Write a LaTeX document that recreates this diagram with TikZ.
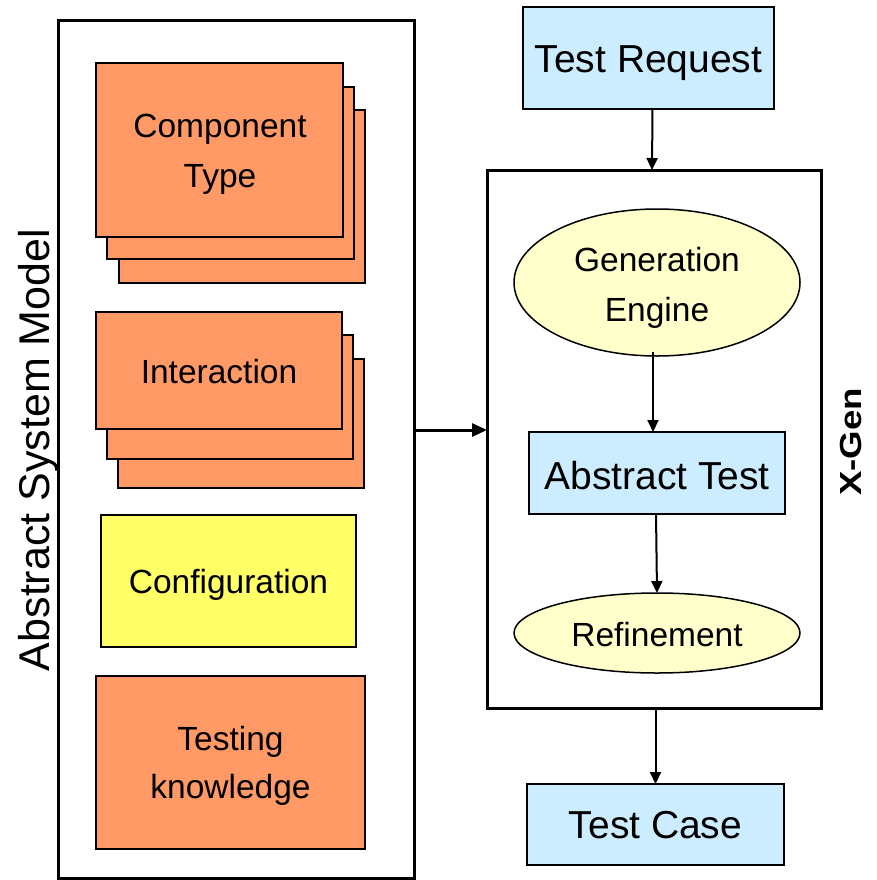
\documentclass[tikz,border=0pt]{standalone}
\usepackage{fontspec}
\usepackage{graphicx}
\setmainfont{Liberation Sans}
\usetikzlibrary{arrows.meta,shapes.geometric}
\definecolor{orng}{HTML}{FF9966}
\definecolor{yelw}{HTML}{FFFF66}
\definecolor{lblue}{HTML}{CCECFF}
\definecolor{lyel}{HTML}{FFFFCC}
\begin{document}
\begin{tikzpicture}[x=1pt,y=-1pt,
  frame/.style={draw=black,line width=3pt,fill=white,inner sep=0pt,outer sep=0pt},
  obox/.style={draw=black,line width=2pt,fill=orng,inner sep=0pt,outer sep=0pt},
  ybox/.style={draw=black,line width=2pt,fill=yelw,inner sep=0pt,outer sep=0pt},
  bbox/.style={draw=black,line width=2pt,fill=lblue,inner sep=0pt,outer sep=0pt},
  ell/.style={ellipse,draw=black,line width=1.5pt,fill=lyel,inner sep=0pt,outer sep=0pt},
  lbl/.style={anchor=base,inner sep=0pt,font=\fontsize{33.5}{40}\selectfont},
  blbl/.style={anchor=base,inner sep=0pt,font=\fontsize{39}{46}\selectfont},
  arr/.style={line width=2pt,-{Triangle[length=12pt,width=11pt]}},
  bigarr/.style={line width=3pt,-{Triangle[length=15pt,width=13pt]}}
]
\useasboundingbox[fill=white] (0,0) rectangle (877,880);

% left frame
\node[frame,minimum width=356pt,minimum height=857pt] (ASM) at (236,449.5) {};
\node[rotate=90,anchor=base,inner sep=0pt] (asmlbl) at (49,450) {\fontsize{43}{43}\selectfont Abstract System Model};

% Component Type stack
\node[obox,minimum width=246pt,minimum height=172.7pt] (CT3) at (242,196.5) {};
\node[obox,minimum width=247pt,minimum height=172pt] (CT2) at (230.5,173) {};
\node[obox,minimum width=247pt,minimum height=173.3pt] (CT1) at (219.5,150) {};
\node[lbl] (ct1) at (220,138) {Component};
\node[lbl] (ct2) at (220,187) {Type};

% Interaction stack
\node[obox,minimum width=246pt,minimum height=129pt] (IN3) at (241,423.3) {};
\node[obox,minimum width=246pt,minimum height=124pt] (IN2) at (230,396.7) {};
\node[obox,minimum width=246pt,minimum height=117pt] (IN1) at (219,370.5) {};
\node[lbl] (in1) at (219,383) {Interaction};

% Configuration
\node[ybox,minimum width=255pt,minimum height=132pt] (CF) at (228.5,581) {};
\node[lbl] (cf1) at (228.5,593) {Configuration};

% Testing knowledge
\node[obox,minimum width=269pt,minimum height=173pt] (TK) at (230.5,762.5) {};
\node[lbl] (tk1) at (230.5,750) {Testing};
\node[lbl] (tk2) at (230.5,798) {knowledge};

% right side
\node[bbox,minimum width=251pt,minimum height=102pt] (TR) at (648.5,58) {};
\node[blbl] (tr1) at (648.5,73) {Test Request};

\node[frame,minimum width=334pt,minimum height=538pt] (XG) at (654,439) {};
\node[rotate=90,anchor=base,inner sep=0pt] (xglbl) at (861,442) {\scalebox{1.2}[1]{\fontsize{30.5}{30.5}\selectfont\bfseries X-Gen}};

\node[ell,minimum width=286pt,minimum height=147pt] (GE) at (657,282.5) {};
\node[lbl] (ge1) at (657,271) {Generation};
\node[lbl] (ge2) at (657,321) {Engine};

\node[bbox,minimum width=256pt,minimum height=82pt] (AT) at (657,473) {};
\node[blbl] (at1) at (657,489) {Abstract Test};

\node[ell,minimum width=286pt,minimum height=80pt] (RF) at (657,633) {};
\node[lbl] (rf1) at (657,646) {Refinement};

\node[bbox,minimum width=257pt,minimum height=81pt] (TC) at (655.5,824.5) {};
\node[blbl] (tc1) at (655.5,838) {Test Case};

% connectors
\draw[arr] ([xshift=4pt]TR.south) -- ([xshift=-2pt]XG.north);
\draw[arr] ([xshift=-4pt,yshift=4pt]GE.south) -- ([xshift=-4pt]AT.north);
\draw[arr] ([xshift=-1pt]AT.south) -- (RF.north);
\draw[arr] (XG.south -| TC.north) -- (TC.north);
\draw[bigarr] ([xshift=2pt,yshift=19.5pt]ASM.east) -- ([yshift=19.5pt]ASM.east -| XG.west);
\end{tikzpicture}
\end{document}
